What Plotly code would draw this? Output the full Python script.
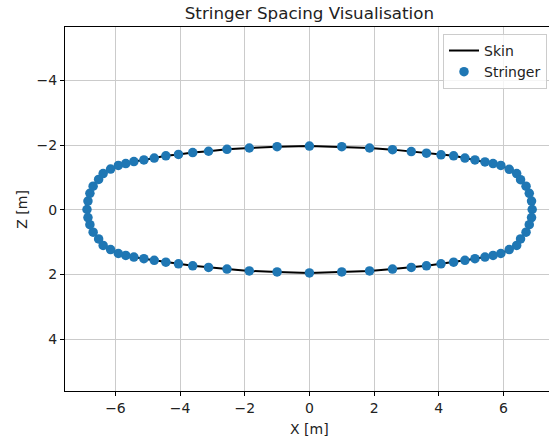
import plotly.graph_objects as go

# Stringer positions (going around: top left->right, then bottom right->left)
stringer_x = [-6.88, -6.85, -6.79, -6.69, -6.52, -6.38, -6.15, -5.91, -5.68, -5.43, -5.12,
              -4.80, -4.44, -4.05, -3.61, -3.12, -2.55, -1.86, -1.00, 0.00,
              1.00, 1.86, 2.57, 3.15, 3.62, 4.07, 4.46, 4.81, 5.12, 5.43,
              5.68, 5.92, 6.18, 6.41, 6.53, 6.70, 6.80, 6.87, 6.89,
              6.87, 6.80, 6.70, 6.53, 6.41, 6.18, 5.92, 5.68, 5.43, 5.12,
              4.81, 4.46, 4.07, 3.62, 3.15, 2.57, 1.86, 1.00, 0.00,
              -1.00, -1.86, -2.55, -3.12, -3.61, -4.05, -4.44, -4.80, -5.12,
              -5.43, -5.68, -5.91, -6.15, -6.38, -6.52, -6.69, -6.79, -6.85]
stringer_z = [-0.01, -0.27, -0.51, -0.73, -0.94, -1.12, -1.26, -1.37, -1.43, -1.49, -1.54,
              -1.60, -1.67, -1.71, -1.77, -1.81, -1.87, -1.91, -1.95, -1.97,
              -1.95, -1.91, -1.86, -1.80, -1.75, -1.70, -1.67, -1.60, -1.54, -1.48,
              -1.43, -1.37, -1.25, -1.12, -0.93, -0.73, -0.51, -0.27, -0.01,
              0.24, 0.46, 0.69, 0.90, 1.10, 1.23, 1.35, 1.41, 1.46, 1.51,
              1.56, 1.62, 1.67, 1.73, 1.78, 1.83, 1.89, 1.92, 1.95,
              1.92, 1.89, 1.83, 1.78, 1.73, 1.67, 1.62, 1.56, 1.51,
              1.46, 1.41, 1.35, 1.23, 1.10, 0.90, 0.69, 0.46, 0.24]

# Skin outline passes through the same stations and closes the loop
skin_x = stringer_x + stringer_x[:1]
skin_z = stringer_z + stringer_z[:1]

x_ticks = [-6, -4, -2, 0, 2, 4, 6]
z_ticks = [-4, -2, 0, 2, 4]

def lab(v):
    return ("\u2212" + str(abs(v))) if v < 0 else str(v)

FONT = "DejaVu Sans"

fig = go.Figure()
fig.add_trace(go.Scatter(x=skin_x, y=skin_z, mode="lines", name="Skin",
                         line=dict(color="black", width=2)))
fig.add_trace(go.Scatter(x=stringer_x, y=stringer_z, mode="markers", name="Stringer",
                         marker=dict(color="#1f77b4", size=9.5, line=dict(width=0))))

axis_common = dict(showgrid=True, gridcolor="#cbcbcb", gridwidth=1, zeroline=False,
                   showline=True, linecolor="black", linewidth=1,
                   ticks="outside", ticklen=4, tickcolor="black",
                   tickfont=dict(family=FONT, size=14, color="#222"))

fig.update_layout(
    width=549, height=439,
    margin=dict(l=65, r=0, t=27, b=48),
    paper_bgcolor="white", plot_bgcolor="white",
    font=dict(family=FONT, size=14, color="#222"),
    title=dict(text="Stringer Spacing Visualisation", x=0.505, xref="paper", xanchor="center",
               y=1 - 13.5 / 439, yref="container", yanchor="middle",
               font=dict(family=FONT, size=16.7, color="#222")),
    xaxis=dict(range=[-7.56, 7.41], tickvals=x_ticks, ticktext=[lab(v) for v in x_ticks],
               mirror=True, **axis_common),
    yaxis=dict(range=[5.6, -5.65], tickvals=z_ticks, ticktext=[lab(v) for v in z_ticks],
               mirror=False, **axis_common),
    legend=dict(x=0.781, y=0.981, xanchor="left", yanchor="top",
                bgcolor="rgba(255,255,255,0.8)", bordercolor="#cccccc", borderwidth=1,
                font=dict(family=FONT, size=14, color="#222"), tracegroupgap=0),
    showlegend=True,
    annotations=[
        dict(text="X [m]", xref="paper", yref="paper", x=0.505, y=-38 / 364,
             xanchor="center", yanchor="middle", showarrow=False,
             font=dict(family=FONT, size=14, color="#222")),
        dict(text="Z [m]", xref="paper", yref="paper", x=(22 - 65) / 484, y=0.498,
             xanchor="center", yanchor="middle", showarrow=False, textangle=-90,
             font=dict(family=FONT, size=14, color="#222")),
    ],
)

fig.write_html("out.html",
               config={"displayModeBar": False},
               post_script="document.body.style.margin='0';document.body.style.padding='0';"
                           "document.body.style.overflow='hidden';")
